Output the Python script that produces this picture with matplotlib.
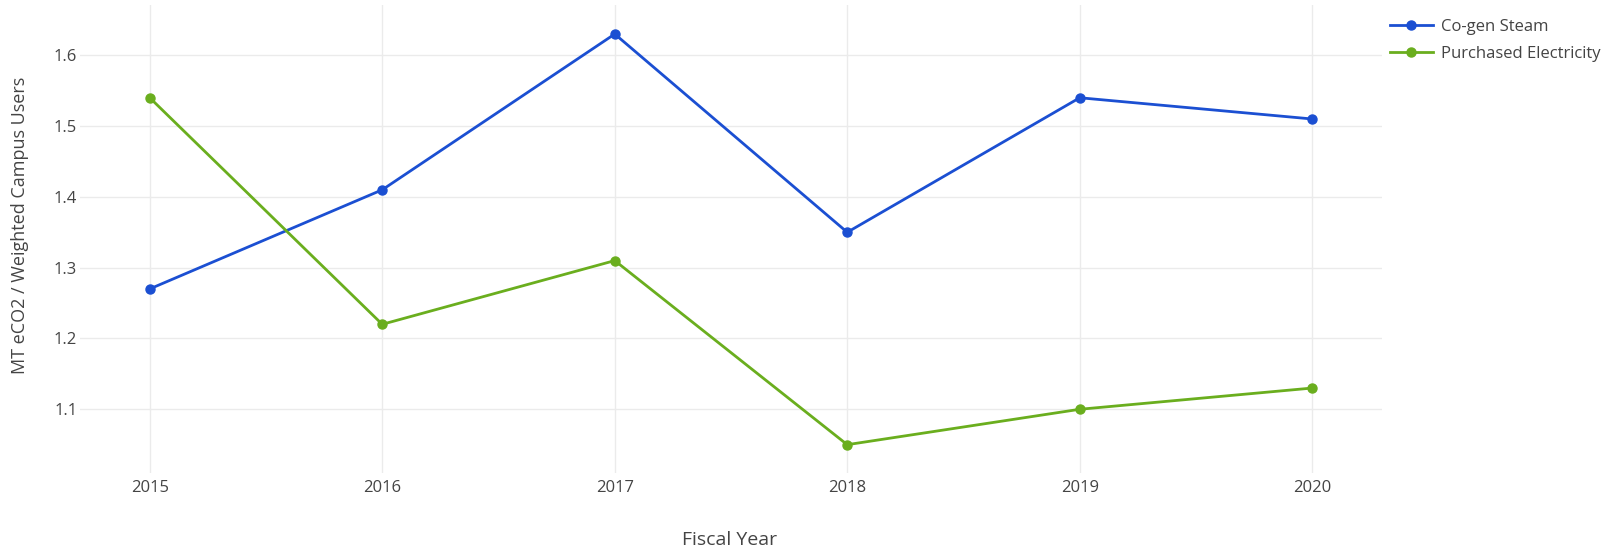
import matplotlib
matplotlib.use("Agg")
import matplotlib.pyplot as plt
from matplotlib.lines import Line2D

years = [2015, 2016, 2017, 2018, 2019, 2020]
cogen_steam = [1.27, 1.41, 1.63, 1.35, 1.54, 1.51]
purchased_electricity = [1.54, 1.22, 1.31, 1.05, 1.10, 1.13]
series_names = ["Co-gen Steam", "Purchased Electricity"]
yticks = [1.1, 1.2, 1.3, 1.4, 1.5, 1.6]

plt.rcParams['font.family'] = ['Open Sans', 'DejaVu Sans']
BLUE = "#1b4fd2"
GREEN = "#6aae1e"
TXT = "#444444"

fig = plt.figure(figsize=(16.05, 5.52), dpi=100)
ax = fig.add_axes([80/1605, 79/552, 1302/1605, 468/552])

ax.plot(years, cogen_steam, color=BLUE, lw=2.0, marker='o', ms=6.5, label=series_names[0], zorder=3)
ax.plot(years, purchased_electricity, color=GREEN, lw=2.0, marker='o', ms=6.5, label=series_names[1], zorder=3)

ax.set_xlim(2014.70, 2020.30)
ax.set_ylim(1.010, 1.671)
ax.set_xticks(years)
ax.set_xticklabels([str(y) for y in years])
ax.set_yticks(yticks)
ax.set_yticklabels([f"{v:.1f}" for v in yticks])
ax.grid(True, color="#ebebeb", lw=1)
ax.set_axisbelow(True)
for s in ax.spines.values():
    s.set_visible(False)
ax.tick_params(length=0, colors=TXT, labelsize=12)
ax.tick_params(axis='x', pad=5)
ax.tick_params(axis='y', pad=2)

fig.text(730/1605, 1 - 540/552, "Fiscal Year", ha='center', va='center', fontsize=14, color=TXT)
fig.text(20/1605, 1 - 225/552, "MT eCO2 / Weighted Campus Users", ha='center', va='center',
         rotation=90, fontsize=13, color=TXT)

handles = [Line2D([0], [0], color=BLUE, lw=2.0, marker='o', ms=6.5),
           Line2D([0], [0], color=GREEN, lw=2.0, marker='o', ms=6.5)]
fig.legend(handles, series_names, loc='upper left', bbox_to_anchor=(1383/1605, 1 - 12/552),
           frameon=False, fontsize=12, labelcolor=TXT, handlelength=2.6, handletextpad=0.5,
           labelspacing=0.65, borderaxespad=0)

fig.savefig("out.png", dpi=100, facecolor='white')
